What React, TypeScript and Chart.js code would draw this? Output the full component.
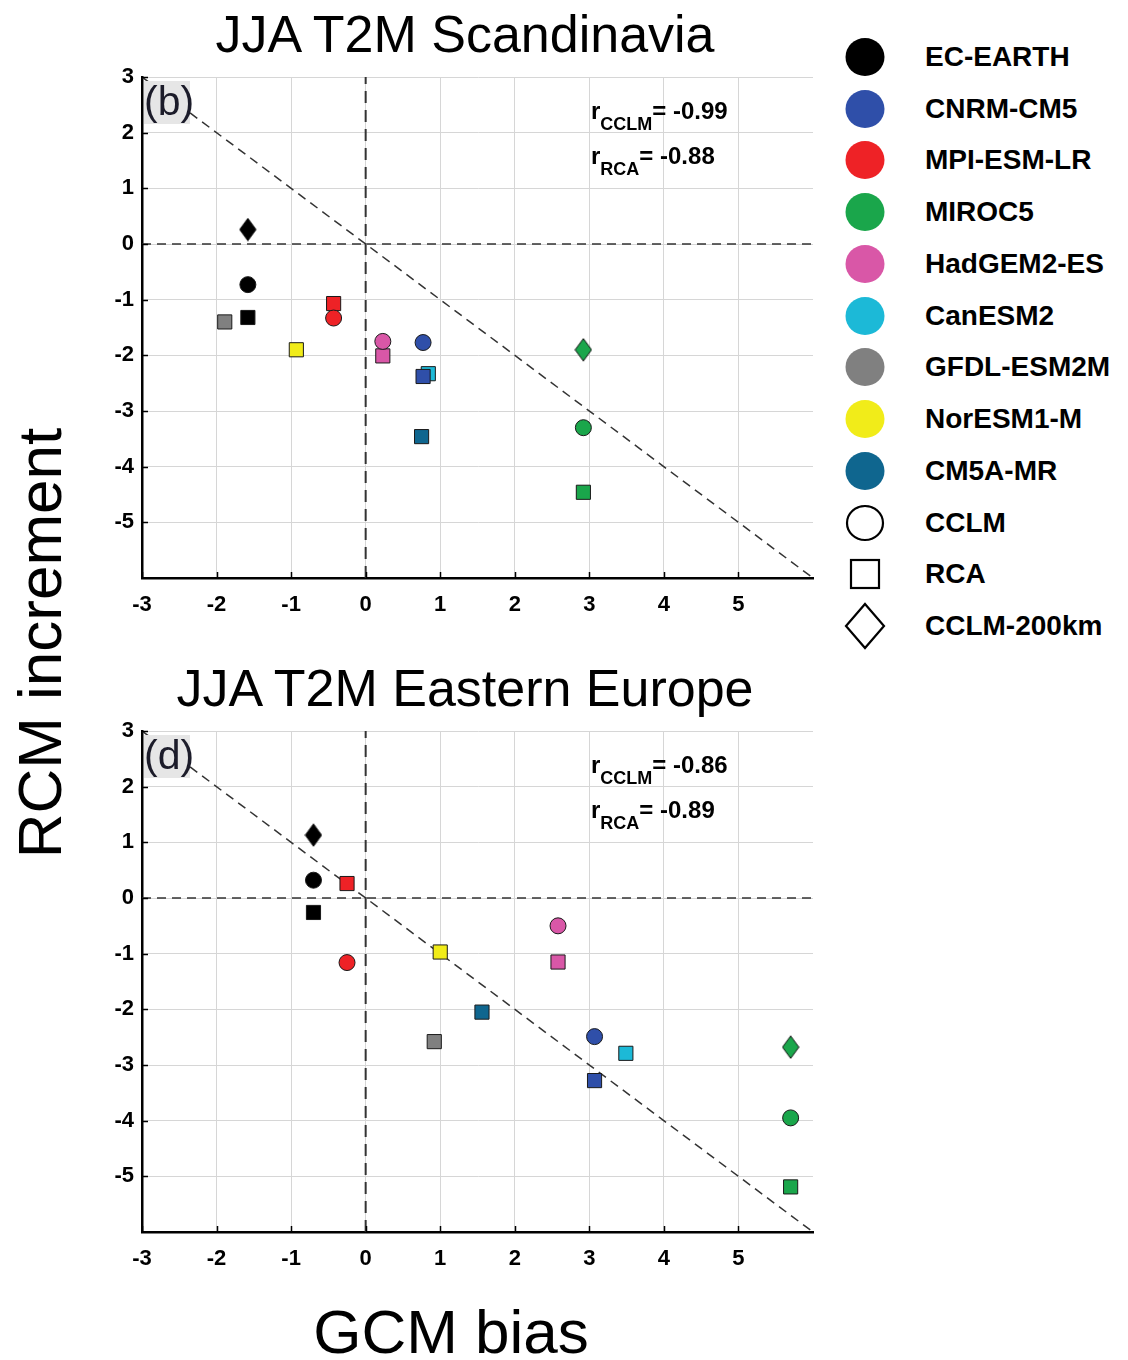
import React, { useEffect, useRef } from "react";
import { Chart, registerables } from "chart.js";

Chart.register(...registerables);

const FONT = '"Liberation Sans", Arial, Helvetica, sans-serif';

// ---------- data ----------
const models = [
  "EC-EARTH",
  "CNRM-CM5",
  "MPI-ESM-LR",
  "MIROC5",
  "HadGEM2-ES",
  "CanESM2",
  "GFDL-ESM2M",
  "NorESM1-M",
  "CM5A-MR",
];
const modelColors = [
  "#000000",
  "#2f4fa9",
  "#ee2226",
  "#1aa64b",
  "#d957a7",
  "#1cb9d7",
  "#808080",
  "#f1ec19",
  "#0f668f",
];
const rcmTypes = ["CCLM", "RCA", "CCLM-200km"];

const xTickValues = [-3, -2, -1, 0, 1, 2, 3, 4, 5];
const yTickValues = [3, 2, 1, 0, -1, -2, -3, -4, -5];

// Panel (b): JJA T2M Scandinavia
const scanTitle = "JJA T2M Scandinavia";
const scanGcmBias = [-1.58, 0.77, -0.43, 2.92, 0.23, 0.84, -1.89, -0.93, 0.75];
const scanCclm = [-0.73, -1.77, -1.33, -3.3, -1.75, null, null, null, null];
const scanRca = [-1.32, -2.38, -1.07, -4.46, -2.01, -2.33, -1.4, -1.9, -3.46];
const scanCclm200 = [0.26, null, null, -1.9, null, null, null, null, null];
const scanR = ["-0.99", "-0.88"];

// Panel (d): JJA T2M Eastern Europe
const eeTitle = "JJA T2M Eastern Europe";
const eeGcmBias = [-0.7, 3.07, -0.25, 5.7, 2.58, 3.49, 0.92, 1.0, 1.56];
const eeCclm = [0.32, -2.49, -1.16, -3.95, -0.5, null, null, null, null];
const eeRca = [-0.26, -3.28, 0.26, -5.19, -1.15, -2.79, -2.58, -0.97, -2.05];
const eeCclm200 = [1.13, null, null, -2.68, null, null, null, null, null];
const eeR = ["-0.86", "-0.89"];

const xLabel = "GCM bias";
const yLabel = "RCM increment";

// ---------- helpers ----------
function makeDiamond(color: string): HTMLCanvasElement {
  const c = document.createElement("canvas");
  c.width = 18;
  c.height = 24;
  const g = c.getContext("2d")!;
  g.beginPath();
  g.moveTo(9, 0.8);
  g.lineTo(17.2, 12);
  g.lineTo(9, 23.2);
  g.lineTo(0.8, 12);
  g.closePath();
  g.fillStyle = color;
  g.fill();
  g.strokeStyle = "#111";
  g.lineWidth = 1;
  g.stroke();
  return c;
}

function drawR(ctx: CanvasRenderingContext2D, x: number, base: number, sub: string, val: string) {
  ctx.fillStyle = "#000";
  ctx.textAlign = "left";
  ctx.textBaseline = "alphabetic";
  ctx.font = `bold 24px ${FONT}`;
  ctx.fillText("r", x, base);
  let cx = x + ctx.measureText("r").width;
  ctx.font = `bold 18px ${FONT}`;
  ctx.fillText(sub, cx, base + 11);
  cx += ctx.measureText(sub).width;
  ctx.font = `bold 24px ${FONT}`;
  ctx.fillText("= " + val, cx, base);
}

function makePanelPlugin(panel: string, rVals: string[]) {
  return {
    id: "panelDecor" + panel,
    afterDraw(chart: any) {
      const { ctx, chartArea: a } = chart;
      const xs = chart.scales.x;
      const ys = chart.scales.y;
      ctx.save();
      // inward tick marks
      ctx.strokeStyle = "#000";
      ctx.lineWidth = 1.5;
      ctx.beginPath();
      for (const v of xTickValues) {
        const px = Math.round(xs.getPixelForValue(v)) + 0.5;
        ctx.moveTo(px, a.bottom);
        ctx.lineTo(px, a.bottom - 6);
      }
      for (const v of yTickValues) {
        const py = Math.round(ys.getPixelForValue(v)) + 0.5;
        ctx.moveTo(a.left, py);
        ctx.lineTo(a.left + 6, py);
      }
      ctx.stroke();
      // panel letter box
      ctx.fillStyle = "#e6e6e6";
      ctx.fillRect(a.left + 2, a.top + 4, 46, 43);
      ctx.fillStyle = "#1c1c2a";
      ctx.font = `41px ${FONT}`;
      ctx.textAlign = "left";
      ctx.textBaseline = "alphabetic";
      ctx.fillText(`(${panel})`, a.left + 2, a.top + 38);
      // correlation texts
      drawR(ctx, a.left + 449, a.top + 42, "CCLM", rVals[0]);
      drawR(ctx, a.left + 449, a.top + 87, "RCA", rVals[1]);
      ctx.restore();
    },
  };
}

function buildDatasets(bias: number[], cclm: (number | null)[], rca: (number | null)[], c200: (number | null)[]) {
  const ds: any[] = [];
  for (let i = 0; i < models.length; i++) {
    if (cclm[i] != null)
      ds.push({
        label: models[i] + " " + rcmTypes[0],
        data: [{ x: bias[i], y: cclm[i] }],
        pointStyle: "circle",
        pointRadius: 8,
        pointHoverRadius: 8,
        backgroundColor: modelColors[i],
        borderColor: "#1a1a1a",
        borderWidth: 1,
        order: 1,
      });
    if (rca[i] != null)
      ds.push({
        label: models[i] + " " + rcmTypes[1],
        data: [{ x: bias[i], y: rca[i] }],
        pointStyle: "rect",
        pointRadius: 10,
        pointHoverRadius: 10,
        backgroundColor: modelColors[i],
        borderColor: "#1a1a1a",
        borderWidth: 1,
        order: 1,
      });
    if (c200[i] != null)
      ds.push({
        label: models[i] + " " + rcmTypes[2],
        data: [{ x: bias[i], y: c200[i] }],
        pointStyle: makeDiamond(modelColors[i]),
        pointRadius: 10,
        pointHoverRadius: 10,
        backgroundColor: modelColors[i],
        borderColor: "#1a1a1a",
        borderWidth: 1,
        order: 1,
      });
  }
  const lineBase = {
    showLine: true,
    pointRadius: 0,
    pointHoverRadius: 0,
    borderColor: "#333333",
    fill: false,
    order: 10,
  };
  ds.push({ ...lineBase, label: "1:-1", data: [{ x: -3, y: 3 }, { x: 6, y: -6 }], borderWidth: 1.5, borderDash: [9, 6] });
  ds.push({ ...lineBase, label: "y0", data: [{ x: -3, y: 0 }, { x: 6, y: 0 }], borderWidth: 1.5, borderDash: [9, 6] });
  ds.push({ ...lineBase, label: "x0", data: [{ x: 0, y: -6 }, { x: 0, y: 3 }], borderWidth: 2, borderDash: [12, 7] });
  return ds;
}

const CW = 840;
const CH = 650;

function ScatterPanel(props: {
  top: number;
  panel: string;
  bias: number[];
  cclm: (number | null)[];
  rca: (number | null)[];
  c200: (number | null)[];
  rVals: string[];
}) {
  const ref = useRef<HTMLCanvasElement | null>(null);
  useEffect(() => {
    if (!ref.current) return;
    const tickFont = { family: FONT, size: 22, weight: "bold" as const };
    const chart = new Chart(ref.current, {
      type: "scatter",
      data: { datasets: buildDatasets(props.bias, props.cclm, props.rca, props.c200) },
      options: {
        animation: false,
        responsive: false,
        devicePixelRatio: 1,
        events: [],
        layout: { padding: { left: 92, top: 77, right: CW - 813, bottom: CH - 578 - 50 } },
        plugins: { legend: { display: false }, tooltip: { enabled: false }, title: { display: false } },
        scales: {
          x: {
            type: "linear",
            min: -3,
            max: 6,
            afterFit: (s: any) => {
              s.height = 50;
            },
            ticks: {
              stepSize: 1,
              color: "#000",
              font: tickFont,
              padding: 14,
              maxRotation: 0,
              autoSkip: false,
              callback: (v: any) => (xTickValues.includes(Number(v)) ? String(v) : ""),
            },
            grid: {
              drawTicks: false,
              lineWidth: 1,
              color: (c: any) => (c.tick && c.tick.value === 6 ? "rgba(0,0,0,0)" : "#d6d6d6"),
            },
            border: { display: true, color: "#000", width: 2.5 },
          },
          y: {
            type: "linear",
            min: -6,
            max: 3,
            afterFit: (s: any) => {
              s.width = 50;
            },
            ticks: {
              stepSize: 1,
              color: "#000",
              font: tickFont,
              padding: 8,
              autoSkip: false,
              callback: (v: any) => (yTickValues.includes(Number(v)) ? String(v) : ""),
            },
            grid: { drawTicks: false, lineWidth: 1, color: "#d6d6d6" },
            border: { display: true, color: "#000", width: 2.5 },
          },
        },
      },
      plugins: [makePanelPlugin(props.panel, props.rVals)],
    });
    return () => chart.destroy();
  }, []);
  return (
    <canvas
      ref={ref}
      width={CW}
      height={CH}
      style={{ position: "absolute", left: 0, top: props.top, width: CW, height: CH }}
    />
  );
}

function LegendIcon({ kind, color }: { kind: string; color: string }) {
  return (
    <svg width={48} height={48} viewBox="0 0 48 48">
      {kind === "fill" && <ellipse cx={24} cy={24} rx={19.5} ry={19} fill={color} />}
      {kind === "CCLM" && <ellipse cx={24} cy={24} rx={18} ry={17} fill="none" stroke="#000" strokeWidth={2.2} />}
      {kind === "RCA" && <rect x={10} y={10} width={28} height={28} fill="none" stroke="#000" strokeWidth={2.2} />}
      {kind === "CCLM-200km" && (
        <polygon points="24,2 43,24 24,46 5,24" fill="none" stroke="#000" strokeWidth={2.2} />
      )}
    </svg>
  );
}

export default function App() {
  const legendItems = [
    ...models.map((m, i) => ({ label: m, kind: "fill", color: modelColors[i] })),
    ...rcmTypes.map((r) => ({ label: r, kind: r, color: "#000" })),
  ];
  const step = (626 - 57) / 11;
  return (
    <div
      style={{
        position: "absolute",
        left: 0,
        top: 0,
        width: 1128,
        height: 1360,
        background: "#fff",
        fontFamily: FONT,
        color: "#000",
        overflow: "hidden",
      }}
    >
      <ScatterPanel top={0} panel="b" bias={scanGcmBias} cclm={scanCclm} rca={scanRca} c200={scanCclm200} rVals={scanR} />
      <ScatterPanel top={654} panel="d" bias={eeGcmBias} cclm={eeCclm} rca={eeRca} c200={eeCclm200} rVals={eeR} />

      <div style={{ position: "absolute", left: 165, width: 600, top: 8, fontSize: 52, lineHeight: "52px", textAlign: "center", whiteSpace: "nowrap" }}>
        {scanTitle}
      </div>
      <div style={{ position: "absolute", left: 165, width: 600, top: 662, fontSize: 52, lineHeight: "52px", textAlign: "center", whiteSpace: "nowrap" }}>
        {eeTitle}
      </div>

      <div style={{ position: "absolute", left: 151, width: 600, top: 1301, fontSize: 62, lineHeight: "62px", textAlign: "center", whiteSpace: "nowrap" }}>
        {xLabel}
      </div>
      <div
        style={{
          position: "absolute",
          left: 40 - 300,
          top: 643 - 31,
          width: 600,
          height: 62,
          fontSize: 62,
          lineHeight: "62px",
          textAlign: "center",
          whiteSpace: "nowrap",
          transform: "rotate(-90deg)",
          transformOrigin: "50% 50%",
        }}
      >
        {yLabel}
      </div>

      {legendItems.map((it, i) => {
        const cy = 57 + i * step;
        return (
          <div key={it.label} style={{ position: "absolute", left: 841, top: cy - 24, height: 48, display: "flex", alignItems: "center" }}>
            <LegendIcon kind={it.kind} color={it.color} />
            <span style={{ position: "absolute", left: 84, top: 0, lineHeight: "48px", fontSize: 28, fontWeight: "bold", whiteSpace: "nowrap" }}>
              {it.label}
            </span>
          </div>
        );
      })}
    </div>
  );
}
